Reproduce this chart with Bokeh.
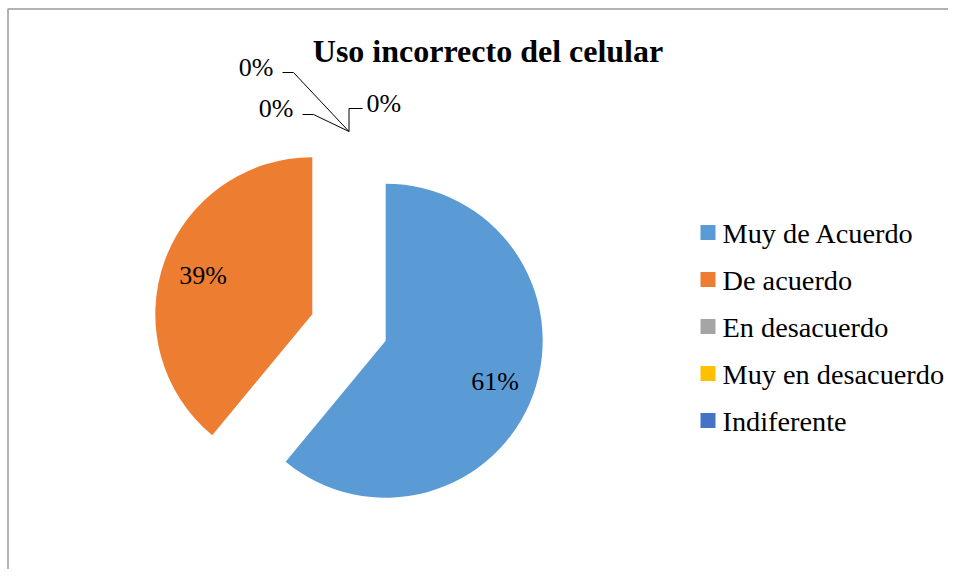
import numpy as np
from bokeh.plotting import figure
from bokeh.models import Range1d, ColumnDataSource
from bokeh.core.properties import value
from bokeh.embed import file_html
from bokeh.resources import INLINE

# ---------------- data ----------------
title_text = "Uso incorrecto del celular"
categories = ["Muy de Acuerdo", "De acuerdo", "En desacuerdo", "Muy en desacuerdo", "Indiferente"]
percent = [61, 39, 0, 0, 0]
colors = ["#5B9BD5", "#ED7D31", "#A5A5A5", "#FFC000", "#4472C4"]

# ---------------- layout ----------------
W, H = 948, 569
FONT = value("Liberation Serif")
TY = 8  # text vertical correction
p = figure(width=W, height=H, x_range=Range1d(-8, W - 8), y_range=Range1d(8, H + 8),
           output_backend="svg", toolbar_location=None, min_border=0,
           x_axis_location=None, y_axis_location=None)
p.grid.visible = False
p.outline_line_color = None
p.background_fill_color = "white"
p.border_fill_color = "white"

# chart area border (left & top visible in reference)
p.line(x=[-0.5, -0.5, W], y=[0, H - 0.5, H - 0.5], line_color="#9A9A9A", line_width=1.5)

# pie geometry (pixel units)
CX, CY, R, EXPL = 340.5, 250.0, 157.0, 39.0

vals = np.array(percent, dtype=float)
frac = vals / vals.sum()
cum = np.cumsum(frac)
start = np.pi / 2 - 2 * np.pi * (cum - frac)
end = np.pi / 2 - 2 * np.pi * cum
mid = np.pi / 2 - 2 * np.pi * (cum - frac / 2)
cx = CX + EXPL * np.cos(mid)
cy = CY + EXPL * np.sin(mid)

nz = vals > 0
src = ColumnDataSource(dict(x=cx[nz], y=cy[nz], s=start[nz], e=end[nz],
                            c=[c for c, k in zip(colors, nz) if k]))
p.wedge(x="x", y="y", radius=R, start_angle="s", end_angle="e", direction="clock",
        fill_color="c", line_color=None, source=src)

# labels inside non-zero slices
lab_txt = [f"{int(v)}%" for v in vals]
lx = cx + 0.74 * R * np.cos(mid)
ly = cy + 0.74 * R * np.sin(mid)
p.text(x=lx[nz], y=ly[nz] - 9 + TY, text=[t for t, k in zip(lab_txt, nz) if k],
       text_font=FONT, text_font_size="26px", text_color="#000000",
       text_align="center", text_baseline="alphabetic")

# zero slices: labels with leader lines from the exploded tip
zero_idx = [i for i in range(len(vals)) if vals[i] == 0]
tipx = CX + (R + EXPL) * np.cos(np.pi / 2)
tipy = CY + (R + EXPL) * np.sin(np.pi / 2)
leaders = [
    ([-66.5, -55.5, 0], [59, 59, 0], -75.5, 56, "right"),
    ([-46.5, -35.5, 0], [17, 17, 0], -55.5, 15, "right"),
    ([0, 0, 13.5], [0, 23, 23], 17.5, 20, "left"),
]
for i, (ox, oy, tx, ty, al) in zip(zero_idx, leaders):
    p.line(x=[tipx + d for d in ox], y=[tipy + d for d in oy], line_color="#000000", line_width=1)
    p.text(x=[tipx + tx], y=[tipy + ty + TY], text=[lab_txt[i]], text_font=FONT,
           text_font_size="26px", text_color="#000000", text_align=al,
           text_baseline="alphabetic")

# title
p.text(x=[479.5], y=[519 + TY], text=[title_text], text_font=FONT, text_font_size="32px",
       text_font_style="bold", text_color="#000000", text_align="center",
       text_baseline="alphabetic")

# legend
row0, step = 345.0, 47.0
ry = [row0 - k * step for k in range(len(categories))]
p.rect(x=[699.5] * len(categories), y=ry, width=15, height=15, fill_color=colors, line_color=None)
p.text(x=[714] * len(categories), y=[v - 7.5 + TY - 1.5 for v in ry], text=categories, text_font=FONT,
       text_font_size="28.3px", text_color="#000000", text_align="left",
       text_baseline="alphabetic")

open("out.html", "w").write(file_html(p, INLINE))
